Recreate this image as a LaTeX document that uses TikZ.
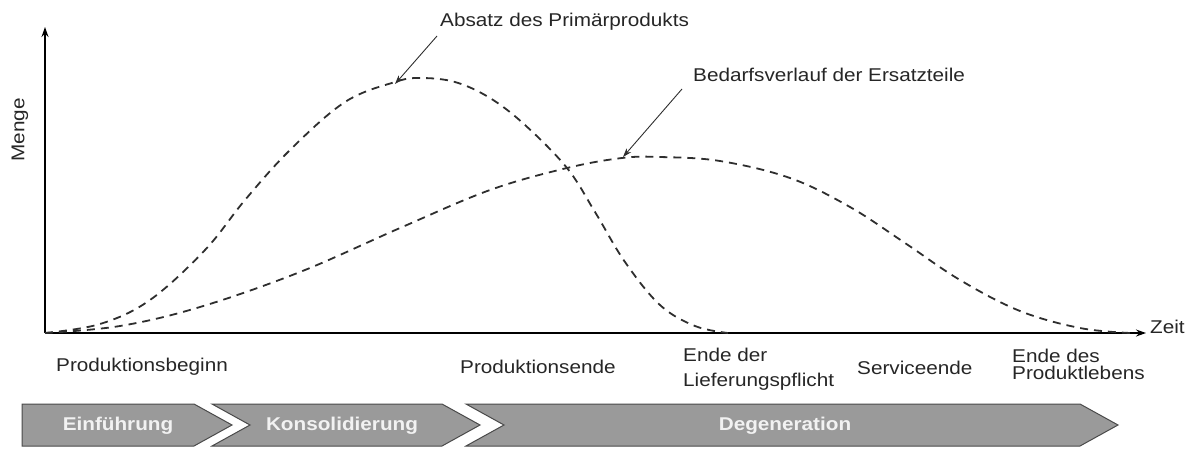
\documentclass[tikz,border=0pt]{standalone}
\usepackage{fontspec}
\setmainfont{Liberation Sans}[FakeStretch=1.12]
\usetikzlibrary{arrows.meta}
\definecolor{curvegray}{HTML}{2E2E2E}
\definecolor{bandfill}{HTML}{9A9A9A}
\definecolor{bandline}{HTML}{4A4A4A}
\definecolor{bandtext}{HTML}{F2F2F2}
\tikzset{
  txt/.style={font=\fontsize{18.5}{22}\selectfont, text=black!85, inner sep=0pt},
  axis/.style={line width=1.4pt, -{Stealth[length=10pt,width=7pt]}},
  curve/.style={curvegray, line width=1.8pt, dash pattern=on 8pt off 6pt},
  pointer/.style={line width=0.9pt, curvegray, -{Stealth[length=9pt,width=6pt]}},
  phase/.style={fill=bandfill, draw=bandline, line width=1pt, line join=miter},
  phasetxt/.style={font=\fontsize{18.5}{22}\selectfont\bfseries, text=bandtext, inner sep=0pt}
}
\begin{document}
\begin{tikzpicture}[x=1pt,y=-1pt]
\useasboundingbox (0,0) rectangle (1197,453);

% axes
\coordinate (o) at (45,333);
\coordinate (ytop) at (45,27);
\coordinate (xend) at (1146,333);
\draw[axis] (o) -- (ytop);
\draw[axis] (o) -- (xend);
\node[txt, rotate=90] (menge) at (20,130) {Menge};
\node[txt, anchor=west] (zeit) at (1150,327) {Zeit};

% sales of the primary product
\draw[curve] plot[smooth, tension=0.6] coordinates {
  (45,333) (100,324) (150,300) (205,250) (245,200) (290,150)
  (345,102) (395,82) (420,78) (455,82) (490,98) (525,125)
  (567,168) (595,212) (625,262) (660,305) (695,326) (728,333)};
% demand for spare parts
\draw[curve] plot[smooth, tension=0.6] coordinates {
  (45,333) (120,326) (200,307) (300,272) (400,228) (490,190)
  (567,168) (622,158) (660,157) (720,161) (790,178) (850,207)
  (905,243) (960,280) (1020,311) (1080,328) (1130,333)};

\coordinate (p1) at (395,84);
\coordinate (p2) at (623,157);
\node[txt, anchor=west] (absatz) at (440,22) {Absatz des Primärprodukts};
\node[txt, anchor=west] (bedarf) at (693,75) {Bedarfsverlauf der Ersatzteile};
\draw[pointer] (437,36) -- (p1);
\draw[pointer] (682,89) -- (p2);

% milestones
\node[txt, anchor=west] (beginn) at (56,367) {Produktionsbeginn};
\node[txt, anchor=west] (prodende) at (460,367) {Produktionsende};
\node[txt, anchor=west, align=left, font=\fontsize{18.5}{25}\selectfont] (liefer) at (683,369) {Ende der\\Lieferungspflicht};
\node[txt, anchor=west] (service) at (857,368) {Serviceende};
\node[txt, anchor=west, align=left, font=\fontsize{18.5}{17}\selectfont] (leben) at (1012,364) {Ende des\\Produktlebens};

% phase band
\draw[phase] (22,404) -- (194,404) -- (232,425) -- (194,446) -- (22,446) -- cycle;
\draw[phase] (212,404) -- (442,404) -- (480,425) -- (442,446) -- (212,446) -- (250,425) -- cycle;
\draw[phase] (466,404) -- (1080,404) -- (1118,425) -- (1080,446) -- (466,446) -- (504,425) -- cycle;
\node[phasetxt] (einf) at (118,426) {Einführung};
\node[phasetxt] (kons) at (342,426) {Konsolidierung};
\node[phasetxt] (degen) at (785,426) {Degeneration};
\end{tikzpicture}
\end{document}
